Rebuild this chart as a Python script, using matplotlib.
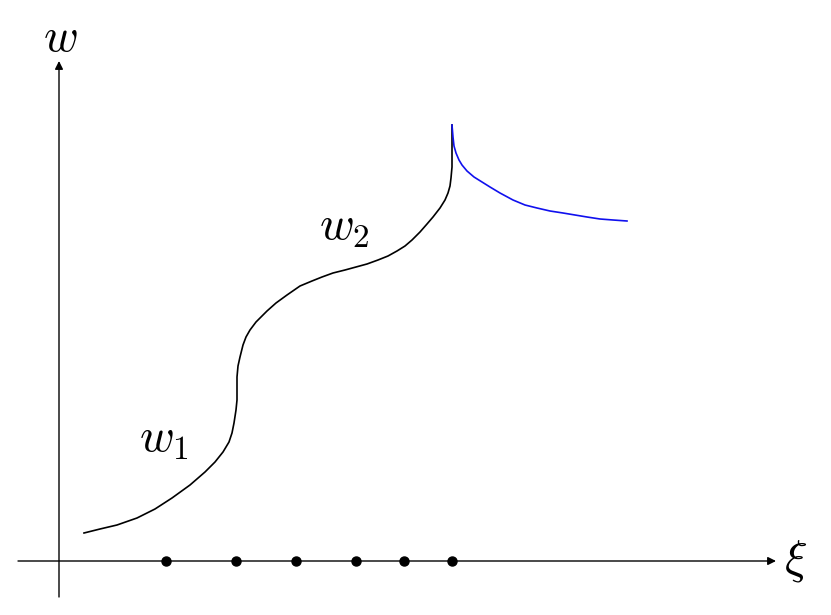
import matplotlib.pyplot as plt

plt.rcParams['mathtext.fontset'] = 'cm'

# origin of the sketch sits at the axes crossing; units are roughly pixels
W1_X = [25, 41, 58, 78, 96, 113, 131, 146, 156, 164, 170, 173, 175, 177, 178, 178, 178, 179, 181,
        184, 187, 191, 197, 203, 208, 217, 228, 241, 253, 263, 274, 286, 297, 308, 319, 329, 338,
        346, 353, 361, 368, 374, 381, 386, 389, 391, 392, 393, 393, 393, 393]
W1_Y = [28, 32, 36, 43, 52, 63, 76, 89, 99, 109, 119, 128, 138, 151, 161, 173, 184, 195, 204,
        216, 224, 231, 239, 245, 250, 258, 266, 275, 280, 284, 288, 291, 294, 297, 301, 305, 310,
        315, 321, 329, 337, 344, 353, 361, 368, 375, 383, 394, 406, 421, 436]

BRANCH_X = [393, 394, 395, 397, 400, 403, 408, 415, 423, 431, 441, 454, 466, 478, 491, 504, 516,
            528, 541, 554, 568]
BRANCH_Y = [436, 424, 415, 408, 401, 396, 390, 384, 379, 374, 368, 361, 356, 353, 350, 348, 346,
            344, 342, 341, 340]

DOTS_X = [107, 177, 237, 297, 345, 393]

def main():
    fig = plt.figure(figsize=(8.31, 6.15), dpi=100)
    ax = fig.add_axes([0, 0, 1, 1])
    ax.set_xlim(-59, 772)
    ax.set_ylim(-54, 561)
    ax.axis('off')

    # axes with arrowheads
    arrow = dict(arrowstyle='-|>', lw=1.0, color='black', mutation_scale=12, shrinkA=0, shrinkB=0)
    ax.annotate('', xy=(717, 0), xytext=(-41, 0), arrowprops=arrow)
    ax.annotate('', xy=(0, 500), xytext=(0, -36), arrowprops=arrow)
    ax.text(737, 0, r'$\xi$', fontsize=34, ha='center', va='center')
    ax.text(1, 523, r'$w$', fontsize=34, ha='center', va='center')

    # the solution curve and the blue branch
    ax.plot(W1_X, W1_Y, color='black', lw=1.2, solid_joinstyle='round')
    ax.plot(BRANCH_X, BRANCH_Y, color='#1010ee', lw=1.2, solid_joinstyle='round')

    ax.plot(DOTS_X, [0] * len(DOTS_X), 'o', color='black', markersize=6.5)

    ax.text(105, 122, r'$w_1$', fontsize=34, ha='center', va='center')
    ax.text(285, 333, r'$w_2$', fontsize=34, ha='center', va='center')

    fig.savefig('out.png', dpi=100)

main()
